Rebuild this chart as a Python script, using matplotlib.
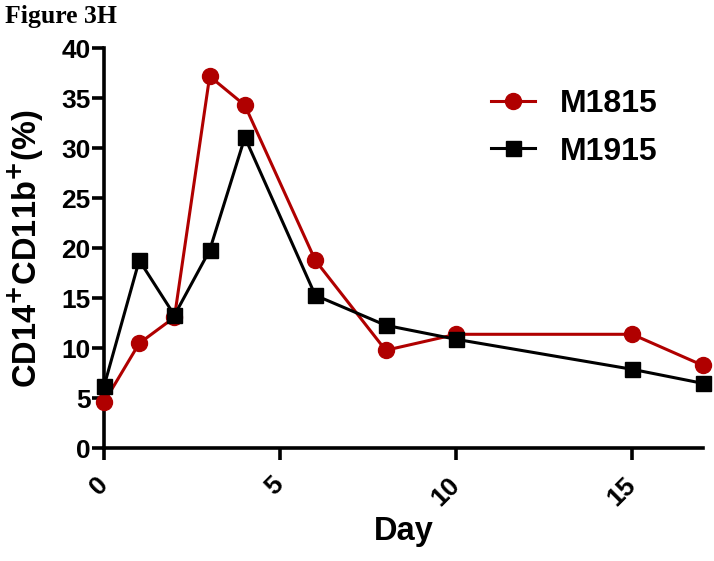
import matplotlib
matplotlib.use("Agg")
import matplotlib.pyplot as plt

# data
days_m1815 = [0, 1, 2, 3, 4, 6, 8, 10, 15, 17]
vals_m1815 = [4.6, 10.5, 13.1, 37.2, 34.3, 18.8, 9.8, 11.4, 11.4, 8.3]
days_m1915 = [0, 1, 2, 3, 4, 6, 8, 10, 15, 17]
vals_m1915 = [6.2, 18.8, 13.3, 19.8, 31.1, 15.3, 12.3, 10.9, 7.9, 6.5]
x_ticks = [0, 5, 10, 15]
y_ticks = [0, 5, 10, 15, 20, 25, 30, 35, 40]

plt.rcParams['font.family'] = ['Liberation Sans', 'DejaVu Sans']
plt.rcParams['font.weight'] = 'bold'

fig = plt.figure(figsize=(7.14, 5.61), dpi=100)
ax = fig.add_axes([0.1457, 0.2009, 0.984 - 0.1457, 0.9139 - 0.2009])

red = '#B00000'
ax.plot(days_m1815, vals_m1815, color=red, marker='o', markersize=11.5,
        linewidth=2.2, label='M1815', clip_on=False, zorder=3)
ax.plot(days_m1915, vals_m1915, color='black', marker='s', markersize=10.8,
        linewidth=2.2, label='M1915', clip_on=False, zorder=4)

ax.set_xlim(0, 17)
ax.set_ylim(0, 40)
ax.set_xticks(x_ticks)
ax.set_yticks(y_ticks)
for s in ['top', 'right']:
    ax.spines[s].set_visible(False)
for s in ['left', 'bottom']:
    ax.spines[s].set_linewidth(2.6)
ax.tick_params(width=2.6, length=8.5, labelsize=19, pad=1)
ax.tick_params(axis='x', pad=15)
for lab in ax.get_xticklabels():
    lab.set_rotation(45)
    lab.set_ha('right')
    lab.set_va('center')
    lab.set_rotation_mode('anchor')
for lab in ax.get_xticklabels() + ax.get_yticklabels():
    lab.set_fontweight('bold')

ax.set_xlabel('Day', fontsize=23.5, fontweight='bold', labelpad=4)
ax.set_ylabel(r'CD14$^{\mathbf{+}}$CD11b$^{\mathbf{+}}$(%)', fontsize=23.5,
              fontweight='bold', labelpad=11)

leg = ax.legend(loc='upper left', bbox_to_anchor=(0.626, 0.93), frameon=False,
                fontsize=23, handlelength=1.35, handletextpad=0.78,
                labelspacing=0.55, borderaxespad=0)
for t in leg.get_texts():
    t.set_fontweight('bold')

fig.text(0.007, 0.959, 'Figure 3H', fontsize=18.5, fontweight='bold',
         family='Liberation Serif', va='baseline', ha='left')

fig.savefig('out.png', dpi=100)
